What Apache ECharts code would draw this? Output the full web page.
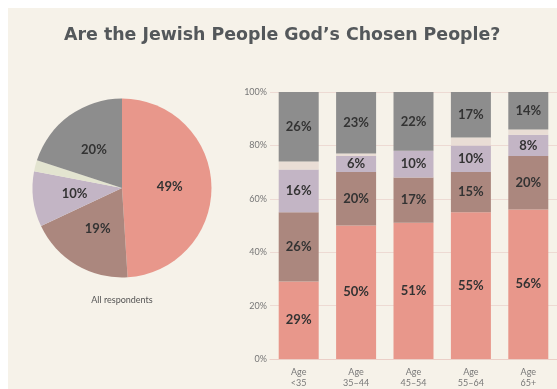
<!DOCTYPE html>
<html>
<head>
<meta charset="utf-8">
<script src="https://cdn.jsdelivr.net/npm/echarts@6/dist/echarts.min.js"></script>
<style>
  html, body { margin: 0; padding: 0; background: #fff; }
  #main { width: 557px; height: 389px; }
</style>
</head>
<body>
<div id="main"></div>
<script>
// data
const ageGroups = ['Age\n<35', 'Age\n35–44', 'Age\n45–54', 'Age\n55–64', 'Age\n65+']
const yesValues = [29, 50, 51, 55, 56]
const brownValues = [26, 20, 17, 15, 20]
const lavenderValues = [16, 6, 10, 10, 8]
const beigeValues = [3, 1, 0, 3, 2]
const grayValues = [26, 23, 22, 17, 14]
const pieValues = [49, 19, 10, 2, 20]
const yTicks = [0, 20, 40, 60, 80, 100]

const colors = ['#e8978b', '#ab877e', '#c3b5c5', '#e9ddd5', '#8d8d8d']
const pieColors = ['#e8978b', '#ab877e', '#c3b5c5', '#e3e4d0', '#8d8d8d']
const font = 'Lato, "Open Sans", sans-serif'

const chartDom = document.getElementById('main')
const myChart = echarts.init(chartDom)

const labelStyle = {
  show: true,
  position: 'inside',
  fontFamily: font,
  fontSize: 13,
  fontWeight: 'bold',
  color: '#333',
  formatter: (p) => (p.value > 3 ? p.value + '%' : '')
}

function barSeries(name, data, color) {
  return {
    name: name,
    type: 'bar',
    stack: 'all',
    barWidth: 40,
    data: data,
    itemStyle: { color: color },
    label: labelStyle
  }
}

const option = {
  animation: false,
  backgroundColor: '#fff',
  graphic: [
    { type: 'rect', shape: { x: 8, y: 8, width: 549, height: 381 }, style: { fill: '#f6f2e9' }, z: -10 },
    {
      type: 'text', left: 64, top: 27,
      style: { text: 'Are the Jewish People God\u2019s Chosen People?', font: 'bold 17.4px "DejaVu Sans", sans-serif', fill: '#54585b' }
    },
    {
      type: 'text', x: 122, y: 300,
      style: { text: 'All respondents', font: '9px ' + font, fill: '#555', align: 'center', verticalAlign: 'middle' }
    }
  ],
  grid: { left: 270, top: 92, width: 292.5, height: 268, containLabel: false },
  xAxis: {
    type: 'category',
    data: ageGroups,
    axisTick: { show: false },
    axisLine: { lineStyle: { color: '#ebcfc7', width: 1 } },
    axisLabel: { color: '#777', fontFamily: font, fontSize: 9, lineHeight: 11, margin: 8 }
  },
  yAxis: {
    type: 'value',
    min: yTicks[0],
    max: yTicks[yTicks.length - 1],
    interval: 20,
    axisLine: { show: false },
    axisTick: { show: false },
    splitLine: { lineStyle: { color: '#eddad3', width: 1 } },
    axisLabel: { color: '#777', fontFamily: font, fontSize: 9, margin: 3, formatter: '{value}%' }
  },
  series: [
    barSeries('Yes', yesValues, colors[0]),
    barSeries('Probably', brownValues, colors[1]),
    barSeries('Not sure', lavenderValues, colors[2]),
    barSeries('Other', beigeValues, colors[3]),
    barSeries('No', grayValues, colors[4]),
    {
      type: 'pie',
      center: [122, 188],
      radius: [0, 89.5],
      startAngle: 90,
      clockwise: true,
      silent: true,
      data: pieValues.map((v, i) => ({ value: v, itemStyle: { color: pieColors[i] } })),
      label: {
        show: true,
        position: 'inside',
        fontFamily: font,
        fontSize: 13,
        fontWeight: 'bold',
        color: '#333',
        formatter: (p) => (p.value > 3 ? p.value + '%' : '')
      },
      labelLine: { show: false }
    }
  ]
}

option && myChart.setOption(option)
</script>
</body>
</html>
